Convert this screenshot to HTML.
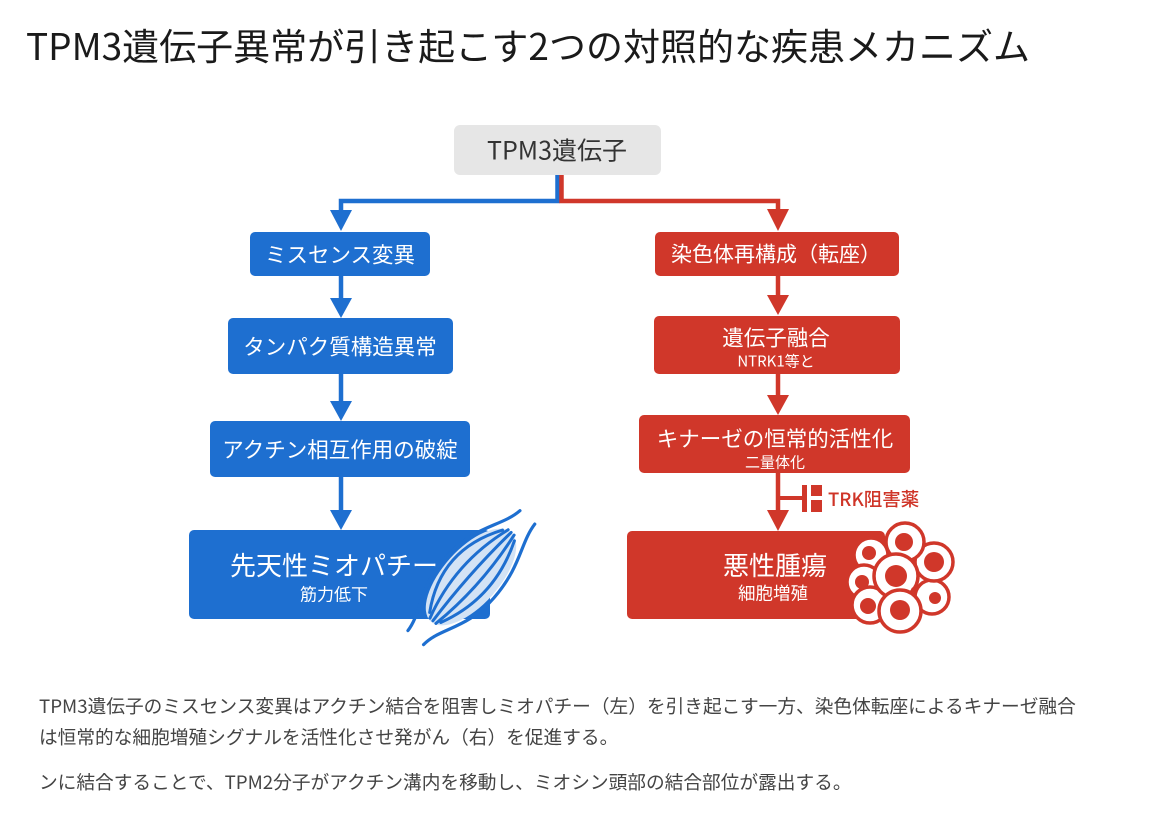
<!DOCTYPE html>
<html lang="ja">
<head>
<meta charset="utf-8">
<style>
  html,body{margin:0;padding:0;background:#ffffff;}
  body{width:1160px;height:828px;position:relative;overflow:hidden;
       font-family:"Noto Sans CJK JP","Liberation Sans",sans-serif;}
  .t{position:absolute;transform:translate(-50%,-50%);white-space:nowrap;line-height:1;}
  .l{position:absolute;white-space:nowrap;line-height:1;}
  .box{position:absolute;border-radius:5px;}
  .blue{background:#1e6fd0;}
  .red{background:#d0372a;}
  .w{color:#ffffff;}
</style>
</head>
<body>

<!-- Title -->
<div class="l" style="left:26px;top:26px;font-size:37px;color:#1a1a1a;">TPM3遺伝子異常が引き起こす2つの対照的な疾患メカニズム</div>

<!-- Root box -->
<div class="box" style="left:454px;top:125px;width:207px;height:50px;background:#e6e6e6;border-radius:6px;"></div>
<div class="t" style="left:557px;top:150px;font-size:25px;color:#333;">TPM3遺伝子</div>

<!-- Blue column boxes -->
<div class="box blue" style="left:250px;top:232px;width:180px;height:44px;"></div>
<div class="t w" style="left:340px;top:254px;font-size:21.5px;">ミスセンス変異</div>

<div class="box blue" style="left:228px;top:318px;width:225px;height:56px;"></div>
<div class="t w" style="left:340px;top:346px;font-size:21.5px;">タンパク質構造異常</div>

<div class="box blue" style="left:210px;top:421px;width:260px;height:56px;"></div>
<div class="t w" style="left:340px;top:449px;font-size:21.5px;">アクチン相互作用の破綻</div>

<div class="box blue" style="left:189px;top:530px;width:301px;height:89px;"></div>
<div class="t w" style="left:334px;top:565px;font-size:26px;">先天性ミオパチー</div>
<div class="t w" style="left:334px;top:593px;font-size:17px;">筋力低下</div>

<!-- Red column boxes -->
<div class="box red" style="left:655px;top:232px;width:244px;height:44px;"></div>
<div class="t w" style="left:776px;top:254px;font-size:21px;">染色体再構成（転座）</div>

<div class="box red" style="left:654px;top:316px;width:246px;height:58px;"></div>
<div class="t w" style="left:776px;top:337px;font-size:21.5px;">遺伝子融合</div>
<div class="t w" style="left:776px;top:361px;font-size:15px;">NTRK1等と</div>

<div class="box red" style="left:639px;top:415px;width:271px;height:58px;"></div>
<div class="t w" style="left:775px;top:438px;font-size:21.5px;">キナーゼの恒常的活性化</div>
<div class="t w" style="left:775px;top:462px;font-size:15px;">二量体化</div>

<div class="box red" style="left:627px;top:531px;width:258px;height:88px;"></div>
<div class="t w" style="left:775px;top:565px;font-size:26px;">悪性腫瘍</div>
<div class="t w" style="left:773px;top:593px;font-size:17.5px;">細胞増殖</div>

<!-- TRK inhibitor label -->
<div class="l" style="left:828px;top:490px;font-size:18.5px;color:#cf3427;font-weight:500;">TRK阻害薬</div>

<!-- Connectors, muscle, cells -->
<svg width="1160" height="828" viewBox="0 0 1160 828" style="position:absolute;left:0;top:0;" xmlns="http://www.w3.org/2000/svg">
  <!-- blue branch -->
  <path d="M557.5,175 V201 H341 V213" fill="none" stroke="#1e6fd0" stroke-width="4.5"/>
  <polygon points="330,210 352,210 341,231" fill="#1e6fd0"/>
  <!-- red branch -->
  <path d="M561.5,175 V201 H778 V212" fill="none" stroke="#d0372a" stroke-width="4.5"/>
  <polygon points="767,209 789,209 778,231" fill="#d0372a"/>

  <!-- blue arrows -->
  <line x1="341" y1="276" x2="341" y2="300" stroke="#1e6fd0" stroke-width="4.5"/>
  <polygon points="330,298 352,298 341,318" fill="#1e6fd0"/>
  <line x1="341" y1="374" x2="341" y2="403" stroke="#1e6fd0" stroke-width="4.5"/>
  <polygon points="330,401 352,401 341,421" fill="#1e6fd0"/>
  <line x1="341" y1="477" x2="341" y2="512" stroke="#1e6fd0" stroke-width="4.5"/>
  <polygon points="330,510 352,510 341,530" fill="#1e6fd0"/>

  <!-- red arrows -->
  <line x1="778" y1="276" x2="778" y2="297" stroke="#d0372a" stroke-width="4.5"/>
  <polygon points="767,295 789,295 778,315" fill="#d0372a"/>
  <line x1="778" y1="374" x2="778" y2="397" stroke="#d0372a" stroke-width="4.5"/>
  <polygon points="767,395 789,395 778,415" fill="#d0372a"/>
  <line x1="778" y1="473" x2="778" y2="512" stroke="#d0372a" stroke-width="4.5"/>
  <polygon points="767,510 789,510 778,531" fill="#d0372a"/>

  <!-- inhibitor symbol -->
  <line x1="778" y1="498" x2="803" y2="498" stroke="#d0372a" stroke-width="4"/>
  <rect x="802" y="485" width="5" height="27" fill="#d0372a"/>
  <rect x="811" y="485" width="11" height="11" fill="#d0372a"/>
  <rect x="811" y="500" width="11" height="12" fill="#d0372a"/>

  <!-- muscle illustration -->
  <g transform="translate(471,577) rotate(-48)" fill="none" stroke="#1e6fd0" stroke-linecap="round">
    <ellipse cx="0" cy="0" rx="60" ry="28" fill="#d3e3f5" stroke="none"/>
    <path d="M-82,-11 C-58,-13 -42,-33 0,-32 C42,-31 58,-11 82,-8" stroke-width="3.2"/>
    <path d="M-82,10 C-58,11 -42,32 0,31 C42,30 58,14 82,12" stroke-width="3.2"/>
    <path d="M-54,-7 Q0,-42 56,-8" stroke-width="3"/>
    <path d="M-58,-3 Q0,-22 60,-4" stroke-width="3"/>
    <path d="M-58,1 Q0,-4 60,0" stroke-width="3"/>
    <path d="M-58,5 Q0,14 60,4" stroke-width="3"/>
    <path d="M-54,8 Q0,32 56,8" stroke-width="3"/>
  </g>

  <!-- tumor cells -->
  <g stroke="#d0372a" stroke-width="3.5" fill="#ffffff">
    <circle cx="871" cy="555" r="17"/>
    <circle cx="932" cy="597" r="17"/>
    <circle cx="864" cy="582" r="17"/>
    <circle cx="870" cy="605" r="18"/>
    <circle cx="934" cy="562" r="19"/>
    <circle cx="905" cy="542" r="19"/>
    <circle cx="896" cy="576" r="22"/>
    <circle cx="900" cy="611" r="21"/>
  </g>
  <g fill="#d0372a">
    <circle cx="869" cy="553" r="7"/>
    <circle cx="862" cy="582" r="7"/>
    <circle cx="935" cy="598" r="6"/>
    <circle cx="868" cy="606" r="8"/>
    <circle cx="904" cy="542" r="9"/>
    <circle cx="934" cy="562" r="10"/>
    <circle cx="896" cy="576" r="11"/>
    <circle cx="900" cy="610" r="10"/>
    <circle cx="914" cy="590" r="3"/>
  </g>
</svg>

<!-- Caption -->
<div class="l" style="left:39px;top:697px;font-size:18.7px;color:#444;">TPM3遺伝子のミスセンス変異はアクチン結合を阻害しミオパチー（左）を引き起こす一方、染色体転座によるキナーゼ融合</div>
<div class="l" style="left:39px;top:728px;font-size:18.7px;color:#444;">は恒常的な細胞増殖シグナルを活性化させ発がん（右）を促進する。</div>
<div class="l" style="left:39px;top:773px;font-size:18.7px;color:#444;">ンに結合することで、TPM2分子がアクチン溝内を移動し、ミオシン頭部の結合部位が露出する。</div>

</body>
</html>
